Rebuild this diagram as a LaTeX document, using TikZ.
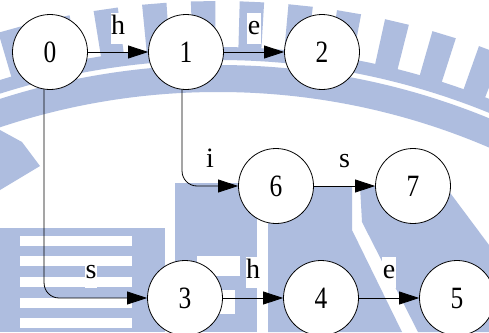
\documentclass[tikz,border=0pt]{standalone}
\usepackage{fontspec}
\usepackage{graphicx}
\setmainfont{Liberation Serif}
\usetikzlibrary{arrows.meta,calc}
\definecolor{wm}{RGB}{174,189,223}
\newcommand{\dg}[1]{\scalebox{0.82}[1]{#1}}
\tikzset{
  st/.style={circle, draw=black, fill=white, line width=0.8pt, minimum size=75pt, inner sep=0pt,
    font=\fontsize{31}{31}\selectfont},
  ar/.style={draw=black, line width=0.8pt, -{Triangle[length=20pt,width=13pt]}},
  lbl/.style={fill=white, inner xsep=0.5pt, inner ysep=1pt, text height=21pt, text depth=8pt,
    font=\fontsize{28}{28}\selectfont}
}
\begin{document}
\begin{tikzpicture}[x=1pt,y=-1pt]
\useasboundingbox (0,0) rectangle (489,332);
\fill[white] (0,0) rectangle (489,332);
% watermark
\begin{scope}
\clip (0,0) rectangle (489,332);
\fill[wm, even odd rule] (218,779) circle[radius=714] (218,779) circle[radius=687];
\fill[wm, even odd rule] (218,779) circle[radius=732] (218,779) circle[radius=719];
\begin{scope}[shift={(218,779)}]
\foreach \k in {-5,...,11}{
  \pgfmathsetmacro{\a}{79.4+3.6*\k}
  \pgfmathsetmacro{\b}{\a+1.8}
  \fill[wm] (-\a:730) -- (-\a:778) -- (-\b:778) -- (-\b:730) -- cycle;
}
\end{scope}
\fill[wm] (0,130) -- (22,142) -- (40,166) -- (0,190) -- cycle;
\fill[wm] (0,228) rectangle (165,332);
\foreach \y in {236,256,277,298,318}{\fill[white] (20,\y) rectangle (132,\y+10);}
\fill[wm] (175,183) rectangle (257,332);
\fill[white] (197,256) rectangle (240,276);
\fill[white] (200,290) rectangle (235,314);
\fill[wm] (268,186) -- (352,186) -- (352,230) -- (402,332) -- (268,332) -- cycle;
\fill[wm] (360,186) -- (445,186) -- (489,245) -- (489,332) -- (418,332) -- (362,222) -- cycle;
\end{scope}
% nodes
\node[st] (n0) at (50,52) {\dg{0}};
\node[st] (n1) at (186,52) {\dg{1}};
\node[st] (n2) at (322,52) {\dg{2}};
\node[st] (n6) at (276,186) {\dg{6}};
\node[st] (n7) at (413,186) {\dg{7}};
\node[st] (n3) at (185,298) {\dg{3}};
\node[st] (n4) at (321,298) {\dg{4}};
\node[st] (n5) at (457,298) {\dg{5}};
% edges
\draw[ar] (n0) -- node[lbl, midway, yshift=24pt] (l01) {h} (n1);
\draw[ar] (n1) -- node[lbl, midway, yshift=24pt] (l12) {e} (n2);
\draw[ar] (n6) -- node[lbl, midway, yshift=25pt] (l67) {s} (n7);
\draw[ar] (n3) -- node[lbl, midway, yshift=26pt] (l34) {h} (n4);
\draw[ar] (n4) -- node[lbl, midway, yshift=26pt] (l45) {e} (n5);
\draw[ar, rounded corners=15pt] (n1.264) |- (n6);
\draw[ar, rounded corners=15pt] (n0.261) |- (n3);
\node[lbl] (l16) at ($(n6.west)+(-28,-25)$) {i};
\node[lbl] (l03) at ($(n3.west)+(-56,-26)$) {s};
\end{tikzpicture}
\end{document}
